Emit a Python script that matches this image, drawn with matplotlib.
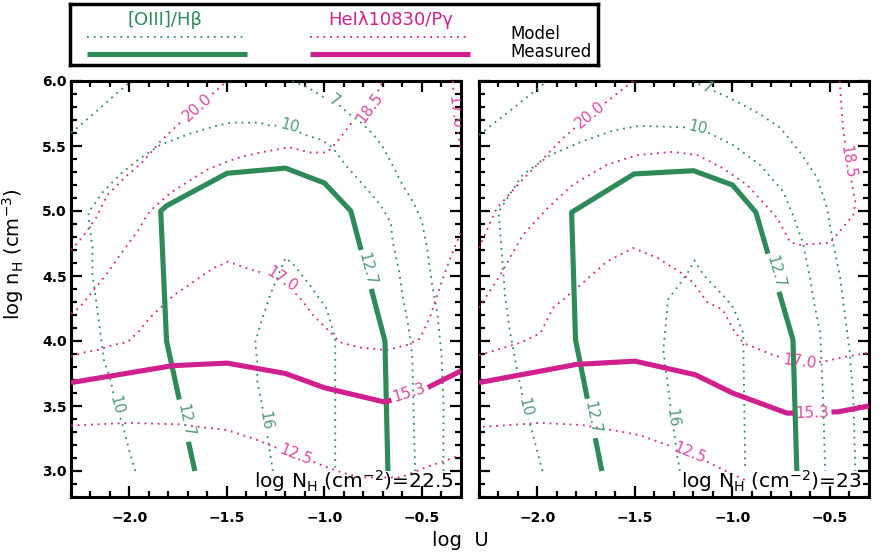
import numpy as np
import matplotlib.pyplot as plt
from matplotlib.ticker import MultipleLocator

# Contours de [OIII]/Hb et HeI10830/Pg dans le plan (log U, log nH)

GREEN = '#2E8B57'
PINK = '#D0208F'
GREEN_LAB = '#4F9E72'
PINK_LAB = '#DB4AA2'

# ---- panneau gauche : log NH = 22.5 ----
o3_a_l = [(-2.30, 5.60), (-2.19, 5.74), (-2.085, 5.88), (-1.99, 6.0)]
o3_10_l = [(-1.97, 3.0), (-2.0, 3.15), (-2.03, 3.33), (-2.07, 3.51), (-2.10, 3.72), (-2.13, 3.84),
           (-2.15, 4.07), (-2.17, 4.30), (-2.19, 4.51), (-2.19, 4.72), (-2.21, 4.95), (-2.21, 4.99),
           (-2.14, 5.14), (-2.05, 5.28), (-1.96, 5.39), (-1.84, 5.51), (-1.70, 5.59), (-1.57, 5.65),
           (-1.48, 5.68), (-1.33, 5.68), (-1.29, 5.66), (-1.18, 5.65), (-1.11, 5.59), (-1.02, 5.55),
           (-0.96, 5.49), (-0.89, 5.35), (-0.80, 5.20), (-0.715, 5.05), (-0.66, 4.91), (-0.65, 4.76),
           (-0.62, 4.56), (-0.60, 4.35), (-0.57, 4.12), (-0.55, 3.89), (-0.545, 3.55), (-0.535, 3.0)]
o3_7_l = [(-1.165, 6.0), (-1.085, 5.95), (-1.01, 5.88), (-0.95, 5.85), (-0.885, 5.76), (-0.82, 5.69),
          (-0.75, 5.59), (-0.70, 5.49), (-0.65, 5.35), (-0.60, 5.20), (-0.545, 5.07), (-0.50, 4.92),
          (-0.475, 4.72), (-0.45, 4.45), (-0.42, 4.20), (-0.40, 3.89), (-0.39, 3.55), (-0.39, 3.0)]
o3_16_l = [(-1.265, 3.0), (-1.305, 3.39), (-1.345, 3.69), (-1.345, 3.84), (-1.355, 3.99), (-1.33, 4.12),
           (-1.28, 4.35), (-1.20, 4.64), (-1.16, 4.59), (-1.075, 4.43), (-0.99, 4.25), (-0.945, 4.02),
           (-0.945, 3.84), (-0.945, 3.0)]
he_20_l = [(-2.30, 4.70), (-2.24, 4.80), (-2.17, 4.95), (-2.115, 5.12), (-2.03, 5.25), (-1.93, 5.38),
           (-1.845, 5.53), (-1.755, 5.66), (-1.65, 5.80), (-1.50, 6.0)]
he_185_l = [(-2.30, 4.21), (-2.255, 4.26), (-2.19, 4.38), (-2.115, 4.52), (-2.05, 4.66), (-1.96, 4.84),
            (-1.91, 4.97), (-1.88, 5.02), (-1.79, 5.14), (-1.705, 5.22), (-1.60, 5.32), (-1.50, 5.38),
            (-1.42, 5.42), (-1.33, 5.45), (-1.18, 5.49), (-1.075, 5.45), (-0.99, 5.45), (-0.96, 5.49),
            (-0.905, 5.59), (-0.855, 5.69), (-0.77, 5.79), (-0.70, 6.0)]
he_17_l = [(-2.30, 3.88), (-2.24, 3.91), (-2.165, 3.93), (-2.085, 3.97), (-2.01, 3.99), (-1.955, 4.07),
           (-1.895, 4.18), (-1.845, 4.25), (-1.775, 4.35), (-1.705, 4.42), (-1.64, 4.49), (-1.57, 4.56),
           (-1.495, 4.61), (-1.40, 4.56), (-1.33, 4.53), (-1.22, 4.47), (-1.125, 4.33), (-1.06, 4.20),
           (-0.985, 4.09), (-0.92, 3.99), (-0.82, 3.95), (-0.68, 3.93), (-0.575, 3.97), (-0.51, 4.02),
           (-0.46, 4.18), (-0.41, 4.41), (-0.355, 4.64), (-0.305, 4.82), (-0.27, 4.95)]
he_17b_l = [(-0.345, 6.05), (-0.33, 5.76), (-0.29, 5.35)]
he_125_l = [(-2.30, 3.35), (-2.01, 3.37), (-1.755, 3.36), (-1.64, 3.34), (-1.50, 3.315), (-1.365, 3.25),
            (-1.15, 3.12), (-1.04, 3.06), (-0.935, 3.0), (-0.82, 2.95), (-0.61, 2.95), (-0.495, 3.02),
            (-0.37, 3.085), (-0.29, 3.13)]
o3_meas_l = [(-1.665, 3.0), (-1.81, 4.0), (-1.84, 5.0), (-1.81, 5.04), (-1.50, 5.29), (-1.20, 5.33),
             (-1.0, 5.215), (-0.865, 5.0), (-0.69, 4.0), (-0.675, 3.0)]
he_meas_l = [(-2.30, 3.68), (-1.78, 3.81), (-1.50, 3.83), (-1.20, 3.75), (-1.0, 3.64), (-0.69, 3.53),
             (-0.50, 3.62), (-0.30, 3.77)]

# ---- panneau droit : log NH = 23 ----
o3_a_r = [(-2.30, 5.585), (-2.125, 5.79), (-1.95, 6.0)]
o3_10_r = [(-1.975, 3.0), (-2.025, 3.29), (-2.065, 3.49), (-2.105, 3.78), (-2.14, 4.06), (-2.165, 4.32),
           (-2.175, 4.51), (-2.19, 4.82), (-2.20, 4.99), (-2.155, 5.10), (-2.075, 5.28), (-1.935, 5.43),
           (-1.78, 5.53), (-1.61, 5.62), (-1.475, 5.655), (-1.27, 5.645), (-1.18, 5.64), (-1.10, 5.585),
           (-1.0, 5.51), (-0.86, 5.355), (-0.74, 5.15), (-0.69, 4.97), (-0.64, 4.76), (-0.605, 4.51),
           (-0.58, 4.28), (-0.55, 4.06), (-0.535, 3.55), (-0.525, 3.0)]
o3_7_r = [(-1.205, 6.0), (-1.13, 5.945), (-1.015, 5.87), (-0.875, 5.76), (-0.755, 5.64), (-0.655, 5.455),
          (-0.565, 5.255), (-0.515, 5.02), (-0.485, 4.76), (-0.45, 4.51), (-0.425, 4.22), (-0.40, 3.93),
          (-0.38, 3.55), (-0.37, 3.0)]
o3_16_r = [(-1.27, 3.0), (-1.28, 3.085), (-1.31, 3.41), (-1.355, 3.93), (-1.33, 4.32), (-1.235, 4.51),
           (-1.195, 4.62), (-1.15, 4.51), (-1.05, 4.355), (-0.995, 4.255), (-0.945, 4.06), (-0.94, 3.55),
           (-0.935, 3.0)]
he_20_r = [(-2.30, 4.715), (-2.21, 5.02), (-2.09, 5.22), (-1.985, 5.38), (-1.87, 5.56), (-1.73, 5.74),
           (-1.51, 6.0)]
he_185_r = [(-2.30, 4.255), (-2.19, 4.51), (-2.075, 4.815), (-1.95, 5.02), (-1.82, 5.20), (-1.645, 5.355),
            (-1.49, 5.43), (-1.305, 5.455), (-1.18, 5.43), (-1.05, 5.33), (-0.925, 5.20), (-0.845, 5.07),
            (-0.77, 4.945), (-0.705, 4.76), (-0.655, 4.74), (-0.50, 4.755), (-0.38, 4.97), (-0.37, 5.07),
            (-0.41, 5.38), (-0.435, 5.66), (-0.45, 6.0)]
he_17_r = [(-2.30, 3.89), (-2.09, 3.985), (-1.985, 4.06), (-1.92, 4.255), (-1.78, 4.43), (-1.645, 4.61),
           (-1.51, 4.715), (-1.385, 4.64), (-1.27, 4.53), (-1.205, 4.455), (-1.13, 4.30), (-1.05, 4.24),
           (-0.995, 4.085), (-0.945, 3.985), (-0.79, 3.89), (-0.655, 3.84), (-0.535, 3.84), (-0.45, 3.87),
           (-0.30, 3.91)]
he_125_r = [(-2.28, 3.34), (-1.985, 3.37), (-1.78, 3.355), (-1.615, 3.315), (-1.475, 3.275), (-1.22, 3.14),
            (-1.115, 3.06), (-1.05, 3.01), (-0.935, 2.93)]
o3_meas_r = [(-1.67, 3.0), (-1.805, 4.01), (-1.825, 4.99), (-1.505, 5.285), (-1.20, 5.31), (-1.0, 5.20),
             (-0.88, 4.99), (-0.69, 4.01), (-0.67, 3.0)]
he_meas_r = [(-2.30, 3.68), (-1.80, 3.82), (-1.50, 3.845), (-1.19, 3.74), (-1.0, 3.60), (-0.72, 3.445),
             (-0.46, 3.455), (-0.30, 3.50)]

# etiquettes des contours (texte, x, y)
lab_l = {
    'o3_10': [('10', -1.18, 5.65), ('10', -2.07, 3.51)],
    'o3_7': [('7', -0.95, 5.85)],
    'o3_16': [('16', -1.305, 3.39)],
    'he_20': [('20.0', -1.65, 5.80)],
    'he_185': [('18.5', -0.77, 5.79)],
    'he_17': [('17.0', -1.22, 4.47)],
    'he_17b': [('17.0', -0.33, 5.76)],
    'he_125': [('12.5', -1.15, 3.12)],
    'o3_meas': [('12.7', -0.78, 4.55), ('12.7', -1.715, 3.39)],
    'he_meas': [('15.3', -0.565, 3.60)],
}
lab_r = {
    'o3_10': [('10', -1.18, 5.64), ('10', -2.065, 3.49)],
    'o3_7': [('7', -1.13, 5.945)],
    'o3_16': [('16', -1.31, 3.41)],
    'he_20': [('20.0', -1.73, 5.74)],
    'he_185': [('18.5', -0.41, 5.38)],
    'he_17': [('17.0', -0.655, 3.84)],
    'he_125': [('12.5', -1.22, 3.14)],
    'o3_meas': [('12.7', -0.78, 4.53), ('12.7', -1.72, 3.41)],
    'he_meas': [('15.3', -0.59, 3.445)],
}

xticks = [-2.0, -1.5, -1.0, -0.5]
yticks = [3.0, 3.5, 4.0, 4.5, 5.0, 5.5, 6.0]

DOT = (0, (1, 2.7))
FS_LAB = 11

fig = plt.figure(figsize=(8.86, 5.53), dpi=100)
axL = fig.add_axes([71/886, 56/553, 390/886, 416/553])
axR = fig.add_axes([479/886, 56/553, 390/886, 416/553])


def style(ax, ylab):
    ax.set_xlim(-2.3, -0.3)
    ax.set_ylim(2.8, 6.0)
    ax.set_xticks(xticks, labels=[f'{v:.1f}'.replace('-', '\u2212') for v in xticks],
                  fontweight='bold', fontsize=10)
    if ylab:
        ax.set_yticks(yticks, labels=[f'{v:.1f}' for v in yticks], fontweight='bold', fontsize=10)
    else:
        ax.set_yticks(yticks, labels=[])
    ax.xaxis.set_minor_locator(MultipleLocator(0.1))
    ax.yaxis.set_minor_locator(MultipleLocator(0.1))
    ax.tick_params(which='both', direction='in', top=True, right=True, width=1.6)
    ax.tick_params(which='major', length=8)
    ax.tick_params(which='minor', length=4)
    ax.tick_params(axis='x', pad=10)
    ax.tick_params(axis='y', pad=3)
    for s in ax.spines.values():
        s.set_linewidth(2.2)


def text_half(txt):
    # demi-largeur approx. de l'etiquette en pixels
    em = FS_LAB * fig.dpi / 72
    w = sum(0.318 if ch == '.' else 0.636 for ch in txt) * em
    return 0.5 * w + 2


def draw(ax, pts, color, lw, ls, labels=(), lcolor=None):
    # trace une ligne de contour avec des trous aux etiquettes
    xy = np.asarray(pts, float)
    parts = [np.linspace(xy[i], xy[i+1], 40, endpoint=False) for i in range(len(xy) - 1)]
    dense = np.vstack(parts + [xy[-1:]])
    disp = ax.transData.transform(dense)
    keep = np.ones(len(dense), bool)
    for txt, lx, ly in labels:
        c = ax.transData.transform((lx, ly))
        d = np.hypot(disp[:, 0] - c[0], disp[:, 1] - c[1])
        j = np.argmin(d)
        a = disp[max(j - 5, 0)]
        b = disp[min(j + 5, len(disp) - 1)]
        ang = np.degrees(np.arctan2(b[1] - a[1], b[0] - a[0]))
        if ang > 90:
            ang -= 180
        elif ang < -90:
            ang += 180
        keep &= d > text_half(txt)
        ax.text(lx, ly, txt, color=lcolor, fontsize=FS_LAB, rotation=ang, rotation_mode='anchor',
                ha='center', va='center', clip_on=True, zorder=5)
    dense[~keep] = np.nan
    ax.plot(dense[:, 0], dense[:, 1], color=color, lw=lw, ls=ls, solid_capstyle='butt', zorder=3)


panels = [
    (axL, True, lab_l, [o3_a_l, o3_10_l, o3_7_l, o3_16_l], ['', 'o3_10', 'o3_7', 'o3_16'],
     [he_20_l, he_185_l, he_17_l, he_17b_l, he_125_l], ['he_20', 'he_185', 'he_17', 'he_17b', 'he_125'],
     o3_meas_l, he_meas_l, r'log N$_{\mathregular{H}}$ (cm$^{\mathregular{-2}}$)=22.5'),
    (axR, False, lab_r, [o3_a_r, o3_10_r, o3_7_r, o3_16_r], ['', 'o3_10', 'o3_7', 'o3_16'],
     [he_20_r, he_185_r, he_17_r, he_125_r], ['he_20', 'he_185', 'he_17', 'he_125'],
     o3_meas_r, he_meas_r, r'log N$_{\mathregular{H}}$ (cm$^{\mathregular{-2}}$)=23'),
]

for ax, ylab, labs, o3_mod, o3_keys, he_mod, he_keys, o3_meas, he_meas, title in panels:
    style(ax, ylab)
    for pts, k in zip(o3_mod, o3_keys):
        draw(ax, pts, GREEN, 1.3, DOT, labs.get(k, []), GREEN_LAB)
    for pts, k in zip(he_mod, he_keys):
        draw(ax, pts, PINK, 1.3, DOT, labs.get(k, []), PINK_LAB)
    draw(ax, o3_meas, GREEN, 3.7, '-', labs['o3_meas'], GREEN_LAB)
    draw(ax, he_meas, PINK, 3.7, '-', labs['he_meas'], PINK_LAB)
    ax.text(0.98, 0.022, title, transform=ax.transAxes, ha='right', va='baseline', fontsize=14.5, zorder=6)

fig.text(13/886, 1 - 254/553, r'log n$_{\mathregular{H}}$ (cm$^{\mathregular{-3}}$)', rotation=90,
         ha='center', va='center', fontsize=14)
fig.text(460/886, 1 - 540/553, 'log  U', ha='center', va='center', fontsize=14)

# legende
leg = fig.add_axes([70/886, 1 - 65/553, 528/886, 61/553])
leg.set_xlim(70, 598)
leg.set_ylim(65, 4)
leg.set_xticks([])
leg.set_yticks([])
for s in leg.spines.values():
    s.set_linewidth(2.5)
leg.text(165, 20, '[OIII]/H\u03b2', color=GREEN, fontsize=13, ha='center', va='center')
leg.plot([87, 247], [37, 37], color=GREEN, lw=1.3, ls=DOT)
leg.plot([87, 247], [54, 54], color=GREEN, lw=3.7, solid_capstyle='butt')
leg.text(391, 20, 'HeI\u03bb10830/P\u03b3', color=PINK, fontsize=13, ha='center', va='center')
leg.plot([310, 470], [37, 37], color=PINK, lw=1.3, ls=DOT)
leg.plot([310, 470], [54, 54], color=PINK, lw=3.7, solid_capstyle='butt')
leg.text(510, 34, 'Model', fontsize=12, va='center')
leg.text(510, 52, 'Measured', fontsize=12, va='center')

plt.savefig('out.png', dpi=100)
